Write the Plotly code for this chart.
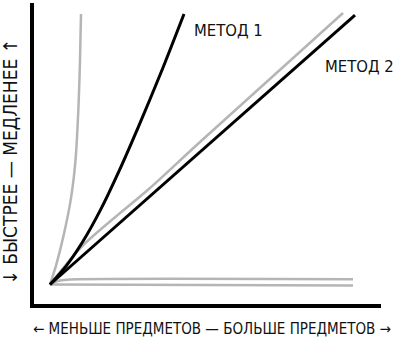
import plotly.graph_objects as go

# ---- data (conceptual units: items on x, time on y) ----
gray_steep_x = [0, 0.2, 0.45, 0.7, 0.85, 0.95, 1.0, 1.033]
gray_steep_y = [0, 0.7, 1.8, 3.2, 4.6, 6.6, 8.3, 10.02]

method1_x = [0, 0.55, 1.1, 1.7, 2.3, 2.95, 3.7, 4.467]
method1_y = [0, 0.7, 1.6, 2.8, 4.2, 5.85, 7.85, 10.02]

gray_linear_x = [0, 1.1, 3.333, 5.0, 9.767]
gray_linear_y = [0, 1.45, 3.574, 5.278, 10.056]

method2_x = [0, 10.167]
method2_y = [0, 9.981]

gray_log_x = [0, 0.167, 0.333, 0.667, 10.1]
gray_log_y = [0, 0.093, 0.148, 0.185, 0.193]

gray_const_x = [0, 10.1]
gray_const_y = [0, -0.04]

label_m1 = "МЕТОД 1"
label_m2 = "МЕТОД 2"
x_title = "← МЕНЬШЕ ПРЕДМЕТОВ — БОЛЬШЕ ПРЕДМЕТОВ →"
y_title = "↓ БЫСТРЕЕ — МЕДЛЕНЕЕ ↑"

# ---- styling ----
GRAY = "#b5b5b5"
BLACK = "#000000"
FONT = "DejaVu Sans Condensed, Liberation Sans Narrow, sans-serif"

W, H = 394, 337
ML, MR, MT, MB = 34, 13, 3, 33

fig = go.Figure()

def add_line(x, y, color, width, shape="spline"):
    fig.add_trace(go.Scatter(x=x, y=y, mode="lines",
                             line=dict(color=color, width=width, shape=shape, smoothing=0.8),
                             hoverinfo="skip", showlegend=False))

add_line(gray_const_x, gray_const_y, GRAY, 2.5)
add_line(gray_log_x, gray_log_y, GRAY, 2.5)
add_line(gray_steep_x, gray_steep_y, GRAY, 2.5)
add_line(gray_linear_x, gray_linear_y, GRAY, 2.5)
add_line(method2_x, method2_y, BLACK, 3, "linear")
add_line(method1_x, method1_y, BLACK, 3)

fig.add_annotation(x=4.733, y=9.39, xref="x", yref="y", text=label_m1,
                   showarrow=False, xanchor="left", yanchor="middle",
                   font=dict(family=FONT, size=16.5, color="#111"))
fig.add_annotation(x=9.1, y=8.06, xref="x", yref="y", text=label_m2,
                   showarrow=False, xanchor="left", yanchor="middle",
                   font=dict(family=FONT, size=16.5, color="#111"))

pw, ph = W - ML - MR, H - MT - MB
fig.add_annotation(x=(212 - ML) / pw, y=(H - MB - 329) / ph, xref="paper", yref="paper",
                   text=x_title, showarrow=False, xanchor="center", yanchor="middle",
                   font=dict(family=FONT, size=15, color="#111"))
fig.add_annotation(x=(10 - ML) / pw, y=(H - MB - 161.5) / ph, xref="paper", yref="paper",
                   text=y_title, showarrow=False, xanchor="center", yanchor="middle",
                   textangle=-90,
                   font=dict(family=FONT, size=19, color="#111"))

fig.update_layout(
    width=W, height=H,
    margin=dict(l=ML, r=MR, t=MT, b=MB, pad=0),
    paper_bgcolor="white", plot_bgcolor="white",
    xaxis=dict(range=[-16 / 30, -16 / 30 + pw / 30], showgrid=False, zeroline=False,
               showticklabels=False, ticks="", showline=True, linecolor=BLACK,
               linewidth=4, fixedrange=True),
    yaxis=dict(range=[-(H - MB - 284.5) / 27, -(H - MB - 284.5) / 27 + ph / 27],
               showgrid=False, zeroline=False, showticklabels=False, ticks="",
               showline=True, linecolor=BLACK, linewidth=4, fixedrange=True),
)

fig.write_html("out.html")
